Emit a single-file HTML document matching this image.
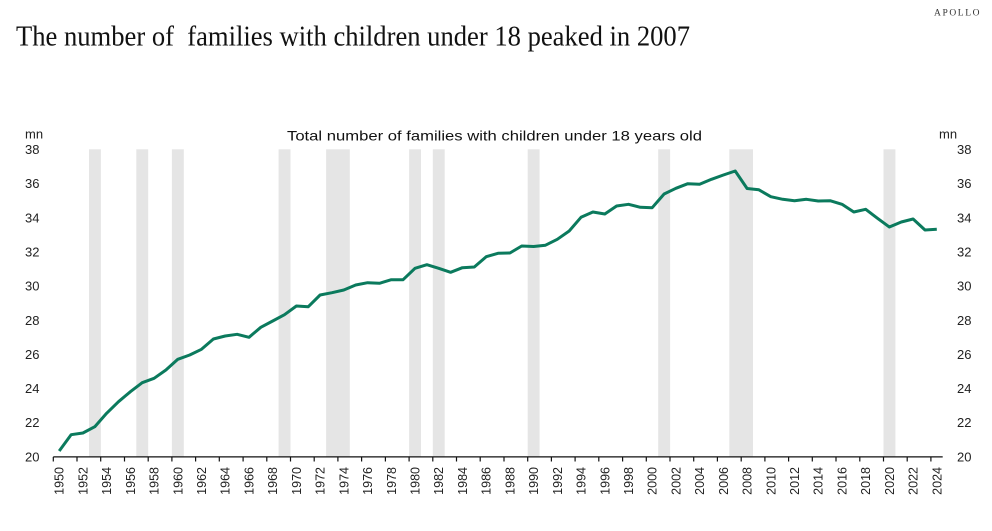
<!DOCTYPE html>
<html>
<head>
<meta charset="utf-8">
<style>
  html, body { margin: 0; padding: 0; background: #ffffff; }
  body { width: 992px; height: 531px; overflow: hidden; }
  svg { display: block; }
  .sans { font-family: "Liberation Sans", "DejaVu Sans", sans-serif; }
  .serif { font-family: "Liberation Serif", "DejaVu Serif", serif; }
</style>
</head>
<body>
<svg width="992" height="531" viewBox="0 0 992 531" xmlns="http://www.w3.org/2000/svg">
  <rect x="0" y="0" width="992" height="531" fill="#ffffff"/>

  <!-- Logo -->
  <text class="serif" x="934" y="15.5" font-size="9.5" letter-spacing="1.6" fill="#333">APOLLO</text>

  <!-- Title -->
  <text class="serif" x="16" y="45.7" font-size="28" fill="#111" textLength="674" lengthAdjust="spacingAndGlyphs">The number of&#160; families with children under 18 peaked in 2007</text>

  <!-- Subtitle -->
  <text class="sans" x="287" y="140.5" font-size="14" fill="#111" textLength="415" lengthAdjust="spacingAndGlyphs">Total number of families with children under 18 years old</text>

  <!-- unit labels -->
  <text class="sans" x="25" y="138.5" font-size="13" fill="#222">mn</text>
  <text class="sans" x="939" y="138.5" font-size="13" fill="#222">mn</text>

  <!-- Recession bands -->
  <g fill="#e5e5e5">
    <rect x="89.0" y="149.3" width="11.9" height="307.4"/>
    <rect x="136.3" y="149.3" width="11.9" height="307.4"/>
    <rect x="171.9" y="149.3" width="11.9" height="307.4"/>
    <rect x="278.6" y="149.3" width="11.9" height="307.4"/>
    <rect x="326.1" y="149.3" width="23.7" height="307.4"/>
    <rect x="409.1" y="149.3" width="11.9" height="307.4"/>
    <rect x="432.8" y="149.3" width="11.9" height="307.4"/>
    <rect x="527.7" y="149.3" width="11.9" height="307.4"/>
    <rect x="658.2" y="149.3" width="11.9" height="307.4"/>
    <rect x="729.3" y="149.3" width="23.7" height="307.4"/>
    <rect x="883.5" y="149.3" width="11.9" height="307.4"/>
  </g>

  <!-- Left y labels -->
  <g class="sans" font-size="13" fill="#222">
    <text x="25" y="154">38</text>
    <text x="25" y="188.2">36</text>
    <text x="25" y="222.3">34</text>
    <text x="25" y="256.4">32</text>
    <text x="25" y="290.6">30</text>
    <text x="25" y="324.8">28</text>
    <text x="25" y="358.9">26</text>
    <text x="25" y="393">24</text>
    <text x="25" y="427.2">22</text>
    <text x="25" y="461.4">20</text>
  </g>
  <!-- Right y labels -->
  <g class="sans" font-size="13" fill="#222">
    <text x="957" y="154">38</text>
    <text x="957" y="188.2">36</text>
    <text x="957" y="222.3">34</text>
    <text x="957" y="256.4">32</text>
    <text x="957" y="290.6">30</text>
    <text x="957" y="324.8">28</text>
    <text x="957" y="358.9">26</text>
    <text x="957" y="393">24</text>
    <text x="957" y="427.2">22</text>
    <text x="957" y="461.4">20</text>
  </g>

  <!-- X axis -->
  <line x1="53.3" y1="456.9" x2="942.7" y2="456.9" stroke="#111" stroke-width="1.3"/>
  <g stroke="#111" stroke-width="1.2">
    <line x1="53.3" y1="456.9" x2="53.3" y2="461.5"/>
    <line x1="77.0" y1="456.9" x2="77.0" y2="461.5"/>
    <line x1="100.7" y1="456.9" x2="100.7" y2="461.5"/>
    <line x1="124.5" y1="456.9" x2="124.5" y2="461.5"/>
    <line x1="148.2" y1="456.9" x2="148.2" y2="461.5"/>
    <line x1="171.9" y1="456.9" x2="171.9" y2="461.5"/>
    <line x1="195.6" y1="456.9" x2="195.6" y2="461.5"/>
    <line x1="219.3" y1="456.9" x2="219.3" y2="461.5"/>
    <line x1="243.1" y1="456.9" x2="243.1" y2="461.5"/>
    <line x1="266.8" y1="456.9" x2="266.8" y2="461.5"/>
    <line x1="290.5" y1="456.9" x2="290.5" y2="461.5"/>
    <line x1="314.2" y1="456.9" x2="314.2" y2="461.5"/>
    <line x1="337.9" y1="456.9" x2="337.9" y2="461.5"/>
    <line x1="361.6" y1="456.9" x2="361.6" y2="461.5"/>
    <line x1="385.4" y1="456.9" x2="385.4" y2="461.5"/>
    <line x1="409.1" y1="456.9" x2="409.1" y2="461.5"/>
    <line x1="432.8" y1="456.9" x2="432.8" y2="461.5"/>
    <line x1="456.5" y1="456.9" x2="456.5" y2="461.5"/>
    <line x1="480.2" y1="456.9" x2="480.2" y2="461.5"/>
    <line x1="504.0" y1="456.9" x2="504.0" y2="461.5"/>
    <line x1="527.7" y1="456.9" x2="527.7" y2="461.5"/>
    <line x1="551.4" y1="456.9" x2="551.4" y2="461.5"/>
    <line x1="575.1" y1="456.9" x2="575.1" y2="461.5"/>
    <line x1="598.8" y1="456.9" x2="598.8" y2="461.5"/>
    <line x1="622.6" y1="456.9" x2="622.6" y2="461.5"/>
    <line x1="646.3" y1="456.9" x2="646.3" y2="461.5"/>
    <line x1="670.0" y1="456.9" x2="670.0" y2="461.5"/>
    <line x1="693.7" y1="456.9" x2="693.7" y2="461.5"/>
    <line x1="717.4" y1="456.9" x2="717.4" y2="461.5"/>
    <line x1="741.2" y1="456.9" x2="741.2" y2="461.5"/>
    <line x1="764.9" y1="456.9" x2="764.9" y2="461.5"/>
    <line x1="788.6" y1="456.9" x2="788.6" y2="461.5"/>
    <line x1="812.3" y1="456.9" x2="812.3" y2="461.5"/>
    <line x1="836.0" y1="456.9" x2="836.0" y2="461.5"/>
    <line x1="859.8" y1="456.9" x2="859.8" y2="461.5"/>
    <line x1="883.5" y1="456.9" x2="883.5" y2="461.5"/>
    <line x1="907.2" y1="456.9" x2="907.2" y2="461.5"/>
    <line x1="930.9" y1="456.9" x2="930.9" y2="461.5"/>
  </g>

  <!-- X labels (rotated) -->
  <g class="sans" font-size="12.5" fill="#222" text-anchor="end">
    <text transform="translate(63.7,467) rotate(-90)">1950</text>
    <text transform="translate(87.4,467) rotate(-90)">1952</text>
    <text transform="translate(111.1,467) rotate(-90)">1954</text>
    <text transform="translate(134.9,467) rotate(-90)">1956</text>
    <text transform="translate(158.6,467) rotate(-90)">1958</text>
    <text transform="translate(182.3,467) rotate(-90)">1960</text>
    <text transform="translate(206.0,467) rotate(-90)">1962</text>
    <text transform="translate(229.7,467) rotate(-90)">1964</text>
    <text transform="translate(253.5,467) rotate(-90)">1966</text>
    <text transform="translate(277.2,467) rotate(-90)">1968</text>
    <text transform="translate(300.9,467) rotate(-90)">1970</text>
    <text transform="translate(324.6,467) rotate(-90)">1972</text>
    <text transform="translate(348.3,467) rotate(-90)">1974</text>
    <text transform="translate(372.1,467) rotate(-90)">1976</text>
    <text transform="translate(395.8,467) rotate(-90)">1978</text>
    <text transform="translate(419.5,467) rotate(-90)">1980</text>
    <text transform="translate(443.2,467) rotate(-90)">1982</text>
    <text transform="translate(466.9,467) rotate(-90)">1984</text>
    <text transform="translate(490.7,467) rotate(-90)">1986</text>
    <text transform="translate(514.4,467) rotate(-90)">1988</text>
    <text transform="translate(538.1,467) rotate(-90)">1990</text>
    <text transform="translate(561.8,467) rotate(-90)">1992</text>
    <text transform="translate(585.5,467) rotate(-90)">1994</text>
    <text transform="translate(609.3,467) rotate(-90)">1996</text>
    <text transform="translate(633.0,467) rotate(-90)">1998</text>
    <text transform="translate(656.7,467) rotate(-90)">2000</text>
    <text transform="translate(680.4,467) rotate(-90)">2002</text>
    <text transform="translate(704.1,467) rotate(-90)">2004</text>
    <text transform="translate(727.9,467) rotate(-90)">2006</text>
    <text transform="translate(751.6,467) rotate(-90)">2008</text>
    <text transform="translate(775.3,467) rotate(-90)">2010</text>
    <text transform="translate(799.0,467) rotate(-90)">2012</text>
    <text transform="translate(822.7,467) rotate(-90)">2014</text>
    <text transform="translate(846.5,467) rotate(-90)">2016</text>
    <text transform="translate(870.2,467) rotate(-90)">2018</text>
    <text transform="translate(893.9,467) rotate(-90)">2020</text>
    <text transform="translate(917.6,467) rotate(-90)">2022</text>
    <text transform="translate(941.3,467) rotate(-90)">2024</text>
  </g>

  <!-- Data line -->
  <polyline fill="none" stroke="#0b7a5d" stroke-width="3" stroke-linejoin="round" stroke-linecap="butt"
    points="59.2,451 71.1,434.7 82.9,433 94.8,426.7 106.6,413.3 118.5,401.7 130.4,391.7 142.2,382.7 154.1,378.3 165.9,370 177.8,359.3 189.7,355 201.5,349.3 213.4,339 225.2,336 237.1,334.3 249.0,337.3 260.8,327.3 272.7,321 284.5,314.7 296.4,306 308.3,306.7 320.1,295 332.0,292.7 343.8,290 355.7,285 367.6,282.7 379.4,283.3 391.3,279.7 403.1,279.7 415.0,268.3 426.9,264.7 438.7,268.3 450.6,272.3 462.4,267.7 474.3,267 486.2,256.7 498.0,253.3 509.9,253 521.7,246 533.6,246.5 545.5,245.2 557.3,239.3 569.2,231 581.0,217.3 592.9,212 604.8,214 616.6,206 628.5,204.3 640.3,207.3 652.2,207.7 664.1,194 675.9,188.3 687.8,183.7 699.6,184.3 711.5,179.3 723.4,175 735.2,171 747.1,188.5 758.9,189.8 770.8,196.7 782.7,199.3 794.5,200.7 806.4,199.3 818.2,201 830.1,200.7 842.0,204.3 853.8,212 865.7,209.3 877.5,218.3 889.4,227 901.3,222 913.1,219 925.0,230 936.8,229.3"/>
</svg>
</body>
</html>
